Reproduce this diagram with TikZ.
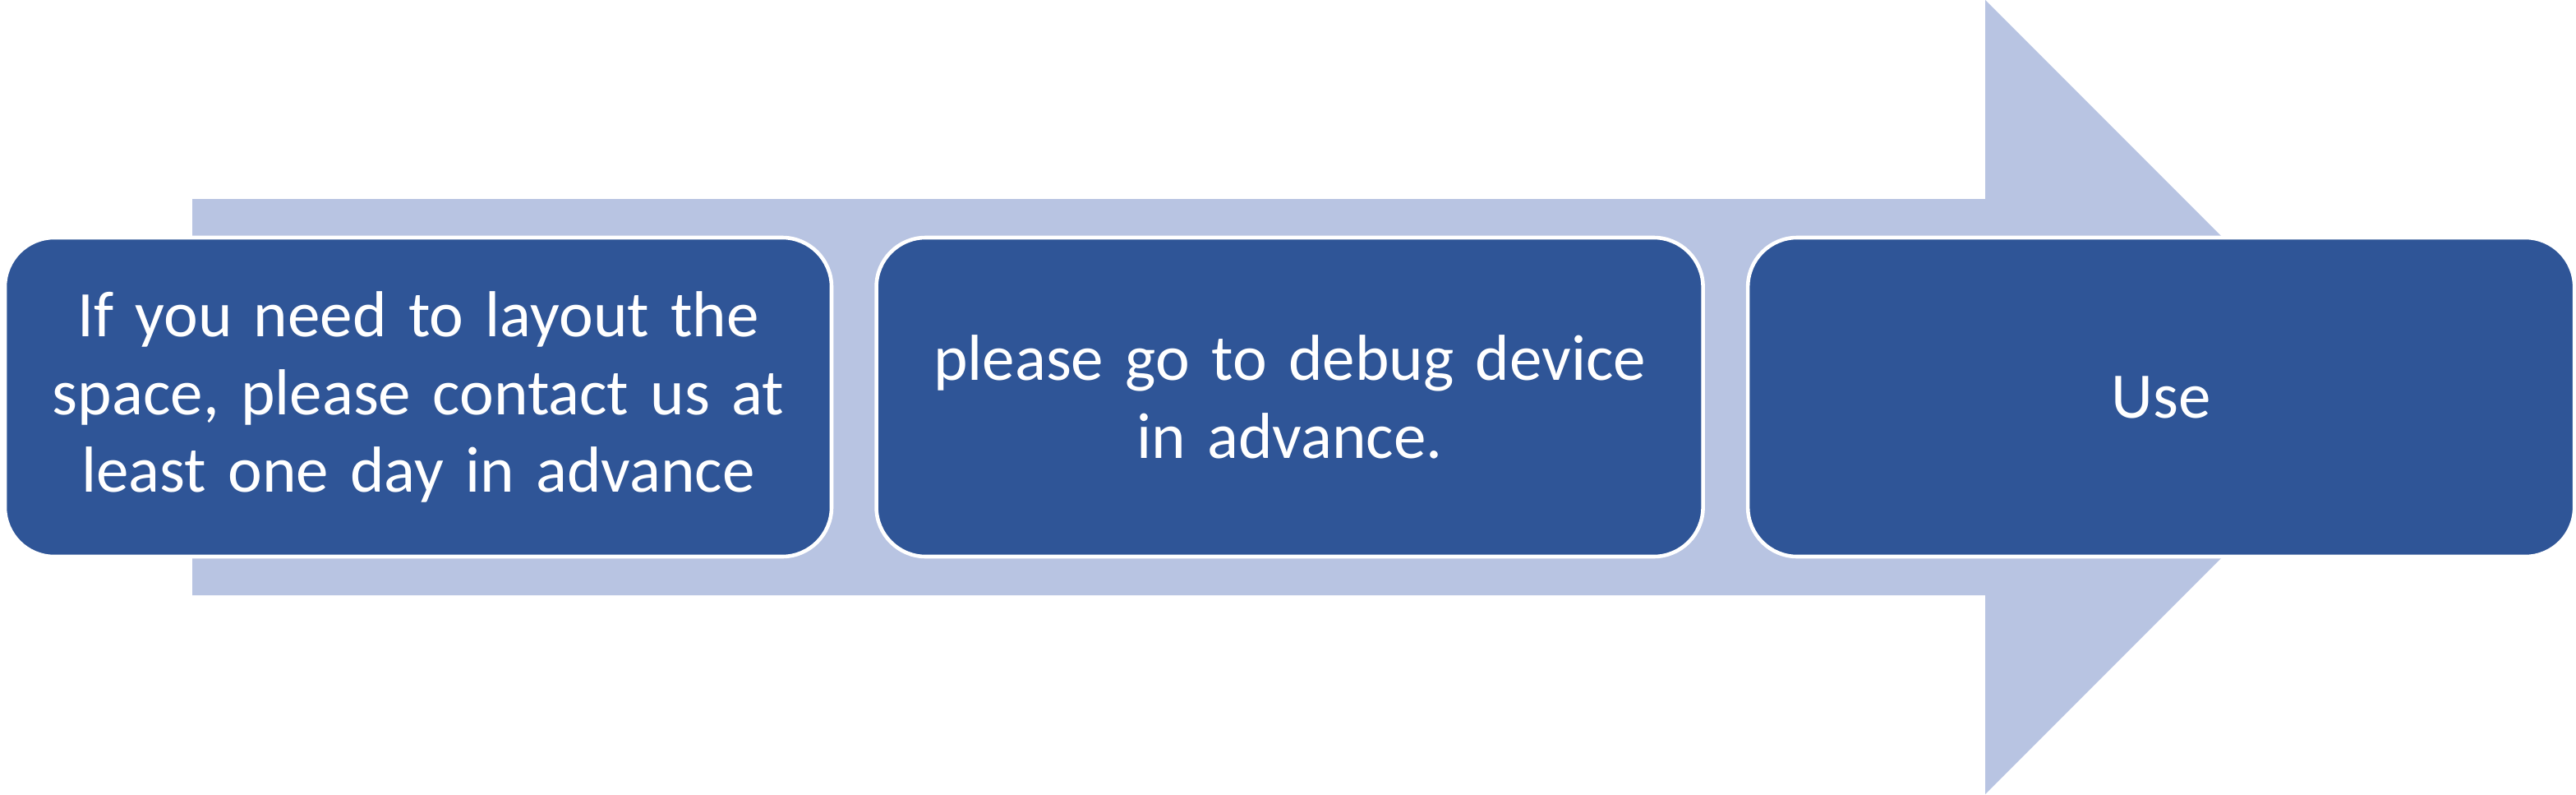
\documentclass[tikz,border=0pt]{standalone}
\usepackage{fontspec}
\setmainfont{Carlito}
\usepackage{xcolor}
\usepackage{tikz}
\usetikzlibrary{positioning}
\definecolor{arrowblue}{RGB}{184,196,226}
\definecolor{boxblue}{RGB}{47,85,151}

\begin{document}
\begin{tikzpicture}[
	stepbox/.style={rectangle, rounded corners=0.6cm, minimum height=3.88cm, minimum width=10.06cm, text width=9.6cm, align=center, fill=boxblue, draw=white, line width=1.3pt, text=white, font=\fontsize{22.5}{27}\selectfont}]
	\useasboundingbox (0,0) rectangle (31.35,9.66);
	\fill[arrowblue] (2.34,7.24) -- (24.16,7.24) -- (24.16,9.66) -- (28.99,4.83) -- (24.16,0) -- (24.16,2.42) -- (2.34,2.42) -- cycle;
	\node[stepbox] at (5.09,4.83)(box1){If you need to layout the\\space, please contact us at\\least one day in advance};
	\node[stepbox, right=0.5cm of box1](box2){please go to debug device\\in advance.};
	\node[stepbox, right=0.5cm of box2](box3){Use};
\end{tikzpicture}
\end{document}
